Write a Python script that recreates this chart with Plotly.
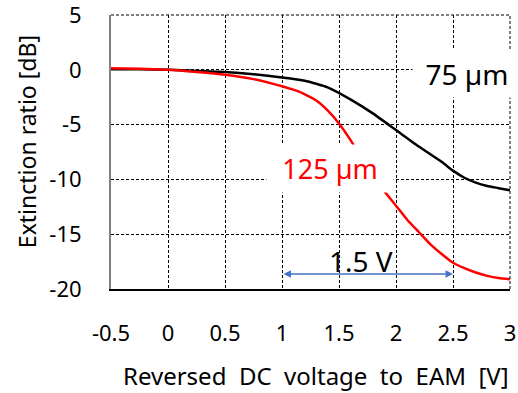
import plotly.graph_objects as go

# ---- data ----
v75 = [-0.5, -0.25, 0.0, 0.25, 0.5, 0.75, 1.0, 1.2, 1.4, 1.6, 1.8, 2.0, 2.2, 2.4, 2.5, 2.6, 2.7, 2.8, 2.9, 3.0]
er75 = [0.05, 0.05, 0.0, -0.1, -0.2, -0.4, -0.7, -1.0, -1.6, -2.7, -4.0, -5.5, -7.0, -8.4, -9.2, -9.85, -10.3, -10.6, -10.8, -11.0]

v125 = [-0.5, -0.25, 0.0, 0.25, 0.5, 0.75, 1.0, 1.15, 1.3, 1.4, 1.5, 1.6, 1.7, 1.8, 1.9, 2.0, 2.1, 2.2, 2.3, 2.4, 2.5, 2.6, 2.7, 2.8, 2.9, 3.0]
er125 = [0.15, 0.1, 0.0, -0.2, -0.45, -0.85, -1.5, -2.0, -2.8, -3.7, -4.9, -6.4, -8.1, -9.7, -11.1, -12.4, -13.7, -14.8, -15.9, -16.8, -17.6, -18.1, -18.5, -18.8, -19.0, -19.1]

x_tickvals = [-0.5, 0, 0.5, 1, 1.5, 2, 2.5, 3]
x_ticktext = ["-0.5", "0", "0.5", "1", "1.5", "2", "2.5", "3"]
y_tickvals = [-20, -15, -10, -5, 0, 5]
y_ticktext = ["-20", "-15", "-10", "-5", "0", "5"]

span_start, span_end, span_level = 1.0, 2.5, -18.63

FONT = "Noto Sans"

fig = go.Figure()
fig.add_trace(go.Scatter(x=v75, y=er75, mode="lines", line=dict(color="black", width=2.5, shape="spline", smoothing=0.5), showlegend=False))
fig.add_trace(go.Scatter(x=v125, y=er125, mode="lines", line=dict(color="#ff0000", width=2.5, shape="spline", smoothing=0.5), showlegend=False))

grid = dict(showgrid=True, gridcolor="black", gridwidth=1, griddash="3px,2px")

fig.update_xaxes(range=[-0.5, 3], tickvals=x_tickvals, ticktext=x_ticktext,
                 showline=True, linecolor="black", linewidth=2, zeroline=False,
                 ticks="", ticklabelstandoff=24, ticklabeloverflow="allow", automargin=False,
                 tickfont=dict(family=FONT, size=22, color="black"), **grid)
fig.update_yaxes(range=[-20, 5], tickvals=y_tickvals, ticktext=y_ticktext,
                 showline=True, linecolor="#7f7f7f", linewidth=2, zeroline=False,
                 ticks="", ticklabelstandoff=23, ticklabeloverflow="allow", automargin=False,
                 tickfont=dict(family=FONT, size=22, color="black"), **grid)

# dashed top & right borders
fig.add_shape(type="line", xref="paper", yref="paper", x0=0, x1=1, y0=1, y1=1,
              line=dict(color="black", width=1, dash="3px,2px"))
fig.add_shape(type="line", xref="paper", yref="paper", x0=1, x1=1, y0=0, y1=1,
              line=dict(color="black", width=1, dash="3px,2px"))

# labels (white boxes hide grid and curves)
fig.add_annotation(x=1.03, y=-0.33, xref="paper", yref="y", text="75 µm", showarrow=False,
                   font=dict(family=FONT, size=28, color="black"), bgcolor="white", borderpad=0,
                   width=108, height=47, align="center", valign="middle",
                   xanchor="right", yanchor="middle")
fig.add_annotation(x=1.42, y=-8.99, xref="x", yref="y", text="125 µm", showarrow=False,
                   font=dict(family=FONT, size=27, color="#ff0000"), bgcolor="white", borderpad=0,
                   width=126, height=47, align="center", valign="middle",
                   xanchor="center", yanchor="middle")
fig.add_annotation(x=1.69, y=-17.45, xref="x", yref="y", text="1.5 V", showarrow=False,
                   font=dict(family=FONT, size=28, color="black"), xanchor="center", yanchor="middle")
fig.add_annotation(x=span_end, y=span_level, ax=span_start, ay=span_level, xref="x", yref="y",
                   axref="x", ayref="y", text="", showarrow=True, arrowhead=2, arrowside="end+start",
                   arrowsize=1, arrowwidth=1.5, arrowcolor="#4472C4")

# axis titles
fig.add_annotation(x=0.514, y=-0.314, xref="paper", yref="paper",
                   text="Reversed&nbsp; DC&nbsp; voltage&nbsp; to&nbsp; EAM&nbsp; [V]",
                   showarrow=False, font=dict(family=FONT, size=24, color="black"),
                   xanchor="center", yanchor="middle")
fig.add_annotation(x=-0.2105, y=0.536, xref="paper", yref="paper", text="Extinction ratio [dB]",
                   showarrow=False, textangle=-90, font=dict(family=FONT, size=23, color="black"),
                   xanchor="center", yanchor="middle")

fig.update_layout(width=518, height=393, margin=dict(l=111, r=8, t=15, b=104),
                  paper_bgcolor="white", plot_bgcolor="white", showlegend=False)

fig.write_html("out.html")
